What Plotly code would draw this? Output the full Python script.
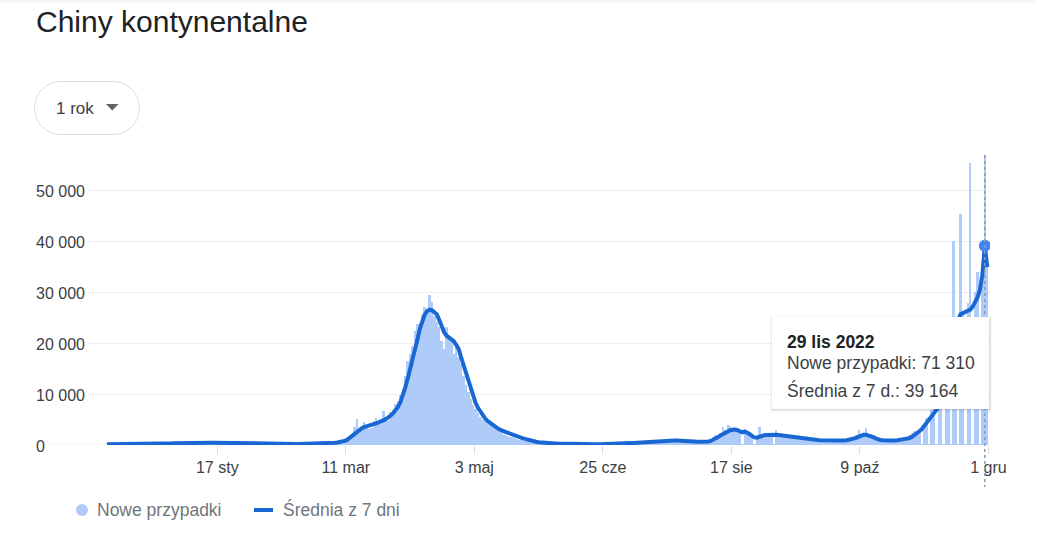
import pandas as pd
import plotly.graph_objects as go

# ---------------- data ----------------
start_date = "2021-12-02"

cases_2021_12 = [90,110,80,120,100,130,150,140,120,160,180,150,170,190,160,200,210,180,230,220,250,240,270,300,290,330,350,380,400,420]
cases_2022_01 = [430,450,470,440,480,460,500,490,470,510,480,460,450,430,440,420,400,380,360,330,310,300,280,270,260,250,240,250,230,220,240]
cases_2022_02 = [220,210,230,200,190,210,220,200,190,180,200,210,190,180,170,190,200,210,230,220,240,260,250,270,280,300,320,350]
cases_2022_03 = [300,350,380,420,480,550,600,700,900,1100,1300,1500,2200,3600,5100,2800,3000,4500,4000,3200,3400,4800,5300,4600,4200,6600,5500,4800,6500,6900,8000]
cases_2022_04 = [8600,9800,11000,13500,16500,17800,19500,22400,23800,23000,25500,27100,26800,29500,28200,25300,24100,23200,20500,18800,23100,21600,20400,17800,19900,17200,16000,13500,11800,10500]
cases_2022_05 = [9000,7800,7000,6200,5600,5000,5300,4600,4100,3800,3400,3000,2600,2300,2000,1800,1600,1500,1300,1100,1000,900,800,750,700,600,550,500,450,400,380]
cases_2022_06 = [350,330,300,280,260,250,230,220,200,180,170,160,150,160,180,200,170,150,140,130,120,110,100,120,130,150,140,160,180,200]
cases_2022_07 = [250,300,350,420,500,550,600,650,620,580,560,620,700,750,820,860,900,950,880,800,760,820,900,980,1020,960,900,850,780,700,650]
cases_2022_08 = [500,550,600,650,700,800,900,1100,1500,2000,1800,2300,3600,3000,4000,3800,3200,2800,3300,2600,100,2900,2400,2200,1900,100,1500,3600,2000,1800,1900]
cases_2022_09 = [2000,2100,100,3000,2300,1900,1800,1700,1600,1500,1400,1300,1250,1200,1150,1100,1050,1000,980,950,900,880,860,850,840,820,800,820,850,880]
cases_2022_10 = [900,950,1000,1100,1300,1600,1900,3000,2000,2200,3400,2000,1600,1300,1100,1000,950,900,870,850,880,900,950,1000,1100,1200,1400,1600,2000,2400,2800]
cases_2022_11 = [2600,3000,100,4200,5300,100,6800,7500,100,9800,11500,100,17000,19500,100,40000,22000,100,45400,26000,100,28000,55500,100,30000,34000,100,36000,71310,35400]

avg_2021_12 = [150,150,155,160,160,165,170,170,175,180,180,185,190,190,195,200,205,210,215,220,230,240,250,265,280,300,320,340,360,380]
avg_2022_01 = [400,415,430,445,455,465,470,475,480,482,480,476,470,462,452,440,425,410,392,372,352,332,315,300,288,276,266,258,250,244,238]
avg_2022_02 = [232,226,220,215,210,206,202,200,198,196,195,194,194,194,193,194,196,199,203,208,214,222,230,240,250,262,276,292]
avg_2022_03 = [310,330,355,380,410,450,500,560,650,800,1000,1400,1800,2200,2600,2950,3250,3500,3700,3850,3980,4100,4250,4400,4600,4850,5100,5400,5800,6250,6800]
avg_2022_04 = [7500,8400,9600,11300,13000,14800,16800,18800,20700,22800,24400,25600,26300,26600,26500,26200,25700,24600,23300,22200,21500,21100,20800,20400,19700,18900,17300,15800,14600,13000]
avg_2022_05 = [11000,9500,8300,7300,6500,5800,5200,4700,4300,3900,3600,3300,3000,2800,2600,2450,2300,2100,1900,1750,1600,1400,1250,1100,950,830,720,630,560,500,450]
avg_2022_06 = [420,390,360,330,300,280,260,240,225,210,200,190,180,175,170,168,165,160,158,155,152,150,150,152,155,160,168,178,190,205]
avg_2022_07 = [220,240,265,295,330,370,410,450,490,530,565,600,630,660,690,720,750,780,805,830,855,875,890,900,905,900,880,850,810,770,730]
avg_2022_08 = [680,620,600,600,620,650,700,800,1000,1250,1550,1850,2150,2450,2700,2900,3000,3050,2900,2700,2500,2650,2500,2150,1800,1500,1450,1650,1800,1900,1950]
avg_2022_09 = [2000,2050,2050,2000,1950,1880,1800,1720,1650,1580,1500,1430,1370,1300,1250,1200,1150,1100,1050,1000,970,940,920,900,880,870,860,860,860,870]
avg_2022_10 = [880,900,930,1000,1100,1250,1400,1650,1850,2000,2000,1900,1750,1550,1300,1100,980,920,880,860,860,870,890,920,970,1050,1100,1200,1350,1600,1900]
avg_2022_11 = [2300,2700,3100,3700,4300,4900,5500,6100,6700,7500,9000,10800,12800,15000,17500,20000,22500,24500,25700,25900,26000,26200,26600,27200,28000,29000,30500,33500,39164,35000]

tick_dates = ["2022-01-17", "2022-03-11", "2022-05-03", "2022-06-25", "2022-08-17", "2022-10-09", "2022-12-01"]
tick_labels = ["17 sty", "11 mar", "3 maj", "25 cze", "17 sie", "9 paź", "1 gru"]
y_ticks = [0, 10000, 20000, 30000, 40000, 50000]
y_labels = ["0", "10 000", "20 000", "30 000", "40 000", "50 000"]

title_text = "Chiny kontynentalne"
range_label = "1 rok"
series_names = ["Nowe przypadki", "Średnia z 7 dni"]
tooltip_date = "2022-11-29"
tooltip_title = "29 lis 2022"
tooltip_labels = ["Nowe przypadki", "Średnia z 7 d."]

cases = (cases_2021_12 + cases_2022_01 + cases_2022_02 + cases_2022_03 + cases_2022_04 + cases_2022_05
         + cases_2022_06 + cases_2022_07 + cases_2022_08 + cases_2022_09 + cases_2022_10 + cases_2022_11)
avg = (avg_2021_12 + avg_2022_01 + avg_2022_02 + avg_2022_03 + avg_2022_04 + avg_2022_05
       + avg_2022_06 + avg_2022_07 + avg_2022_08 + avg_2022_09 + avg_2022_10 + avg_2022_11)
days = pd.date_range(start_date, periods=len(cases), freq="D")
xpos = days + pd.Timedelta(hours=12)  # bars centred on the day

# ---------------- geometry helpers (page pixels -> paper) ----------------
W, H = 1037, 555
L, R, T, B = 89, 990, 155, 445  # plot area in page pixels
PX_PER_DAY = 2.425
ref_day, ref_px = pd.Timestamp("2022-01-17"), 217.3
x_min = ref_day - pd.Timedelta(days=(ref_px - L) / PX_PER_DAY)
x_max = ref_day + pd.Timedelta(days=(R - ref_px) / PX_PER_DAY)


def px(x):
    return (x - L) / (R - L)


def py(y):
    return (B - y) / (B - T)


FONT = "Liberation Sans, Arial, sans-serif"
BAR_C = "#aecbfa"
LINE_C = "#1967d2"
GRID_C = "#ebedf0"
TXT_C = "#3c4043"

fig = go.Figure()
fig.add_trace(go.Bar(x=xpos, y=cases, name=series_names[0], marker=dict(color=BAR_C, line=dict(width=0)),
                     showlegend=False))
fig.add_trace(go.Scatter(x=xpos, y=avg, mode="lines", name=series_names[1],
                         line=dict(color=LINE_C, width=4), showlegend=False))

ti = list(days).index(pd.Timestamp(tooltip_date))
fig.add_trace(go.Scatter(x=[xpos[ti]], y=[avg[ti]], mode="markers",
                         marker=dict(size=12, color="#4285f4"), showlegend=False))

shapes = []
annotations = []

# faint header shadow at the very top of the card
shapes.append(dict(type="rect", xref="paper", yref="paper", x0=px(0), x1=px(W), y0=py(0), y1=py(3),
                   line=dict(width=0), fillcolor="rgba(0,0,0,0.035)"))

# zero baseline extends further left than the other gridlines
shapes.append(dict(type="line", xref="paper", yref="y", x0=px(47), x1=1, y0=0, y1=0,
                   line=dict(color=GRID_C, width=1), layer="below"))

# y tick labels (left aligned like the original)
for v, lab in zip(y_ticks, y_labels):
    annotations.append(dict(xref="paper", yref="y", x=px(34), y=v, text=lab, showarrow=False,
                            xanchor="left", yanchor="middle", yshift=-1,
                            font=dict(family=FONT, size=16, color=TXT_C)))

# title
annotations.append(dict(xref="paper", yref="paper", x=px(34), y=py(21), text=title_text, showarrow=False,
                        xanchor="left", yanchor="middle", font=dict(family=FONT, size=30, color="#202124")))


# range button (rounded pill)
def pill_path(x0, y0, x1, y1):
    r = (y1 - y0) / 2
    k = 0.5523 * r
    pts = [
        ("M", [(x0 + r, y0)]),
        ("L", [(x1 - r, y0)]),
        ("C", [(x1 - r + k, y0), (x1, y0 + r - k), (x1, y0 + r)]),
        ("C", [(x1, y0 + r + k), (x1 - r + k, y1), (x1 - r, y1)]),
        ("L", [(x0 + r, y1)]),
        ("C", [(x0 + r - k, y1), (x0, y0 + r + k), (x0, y0 + r)]),
        ("C", [(x0, y0 + r - k), (x0 + r - k, y0), (x0 + r, y0)]),
    ]
    s = ""
    for cmd, ps in pts:
        s += cmd + " " + " ".join(f"{px(a):.5f},{py(b):.5f}" for a, b in ps) + " "
    return s + "Z"


shapes.append(dict(type="path", xref="paper", yref="paper", path=pill_path(34.5, 81.5, 139.5, 134.5),
                   line=dict(color="#dadce0", width=1), fillcolor="rgba(0,0,0,0)"))
shapes.append(dict(type="path", xref="paper", yref="paper",
                   path=f"M {px(106)},{py(104)} L {px(118.5)},{py(104)} L {px(112.25)},{py(110.5)} Z",
                   line=dict(width=0), fillcolor="#5f6368"))
annotations.append(dict(xref="paper", yref="paper", x=px(54), y=py(108), text=range_label, showarrow=False,
                        xanchor="left", yanchor="middle", font=dict(family=FONT, size=17, color=TXT_C)))

# hover guide line
shapes.append(dict(type="line", xref="x", yref="paper", x0=xpos[ti], x1=xpos[ti], y0=1, y1=py(487),
                   line=dict(color="#8a9bb5", width=1.5, dash="dot"), layer="above"))

# tooltip box with soft shadow
bx0, by0, bx1, by1 = 772, 317, 989, 409
for d, a in [(3, 0.04), (2, 0.06), (1, 0.10)]:
    shapes.append(dict(type="rect", xref="paper", yref="paper", x0=px(bx0 - d + 1), x1=px(bx1 + d),
                       y0=py(by0 - d + 2), y1=py(by1 + d), line=dict(width=0),
                       fillcolor=f"rgba(60,64,67,{a})", layer="above"))
shapes.append(dict(type="rect", xref="paper", yref="paper", x0=px(bx0), x1=px(bx1), y0=py(by0), y1=py(by1),
                   line=dict(width=0), fillcolor="white", layer="above"))


def fmt(v):
    return f"{int(round(v)):,}".replace(",", " ")


tt_lines = [
    (f"<b>{tooltip_title}</b>", 342, "#202124"),
    (f"{tooltip_labels[0]}: {fmt(cases[ti])}", 363, TXT_C),
    (f"{tooltip_labels[1]}: {fmt(avg[ti])}", 390, TXT_C),
]
for text, yc, col in tt_lines:
    annotations.append(dict(xref="paper", yref="paper", x=px(785), y=py(yc), text=text, showarrow=False,
                            xanchor="left", yanchor="middle", font=dict(family=FONT, size=17.5, color=col)))

# legend (custom, to match the compact markers)
shapes.append(dict(type="circle", xref="paper", yref="paper", x0=px(76), x1=px(88), y0=py(504), y1=py(516),
                   line=dict(width=0), fillcolor=BAR_C))
shapes.append(dict(type="line", xref="paper", yref="paper", x0=px(254), x1=px(273), y0=py(510), y1=py(510),
                   line=dict(color=LINE_C, width=4)))
annotations.append(dict(xref="paper", yref="paper", x=px(95), y=py(510), text=series_names[0], showarrow=False,
                        xanchor="left", yanchor="middle", font=dict(family=FONT, size=17.5, color="#70757a")))
annotations.append(dict(xref="paper", yref="paper", x=px(281), y=py(510), text=series_names[1], showarrow=False,
                        xanchor="left", yanchor="middle", font=dict(family=FONT, size=17.5, color="#70757a")))

fig.update_layout(
    width=W, height=H,
    margin=dict(l=L, r=W - R, t=T, b=H - B, pad=0),
    paper_bgcolor="white", plot_bgcolor="white",
    bargap=0, hovermode=False, showlegend=False,
    shapes=shapes, annotations=annotations,
    xaxis=dict(range=[x_min, x_max], tickvals=pd.to_datetime(tick_dates), ticktext=tick_labels,
               ticks="outside", ticklen=8, tickwidth=1, tickcolor="#dadce0",
               showgrid=False, zeroline=False, showline=False,
               tickfont=dict(family=FONT, size=16, color=TXT_C)),
    yaxis=dict(range=[0, 57000], tickvals=y_ticks, showticklabels=False, ticks="",
               showgrid=True, gridcolor=GRID_C, gridwidth=1, zeroline=False, showline=False),
)

# place the chart flush with the page corner (remove the default body margin)
fig.write_html("out.html", config={"displayModeBar": False, "staticPlot": True},
               post_script="document.body.style.margin='0';document.body.style.overflow='hidden';")
